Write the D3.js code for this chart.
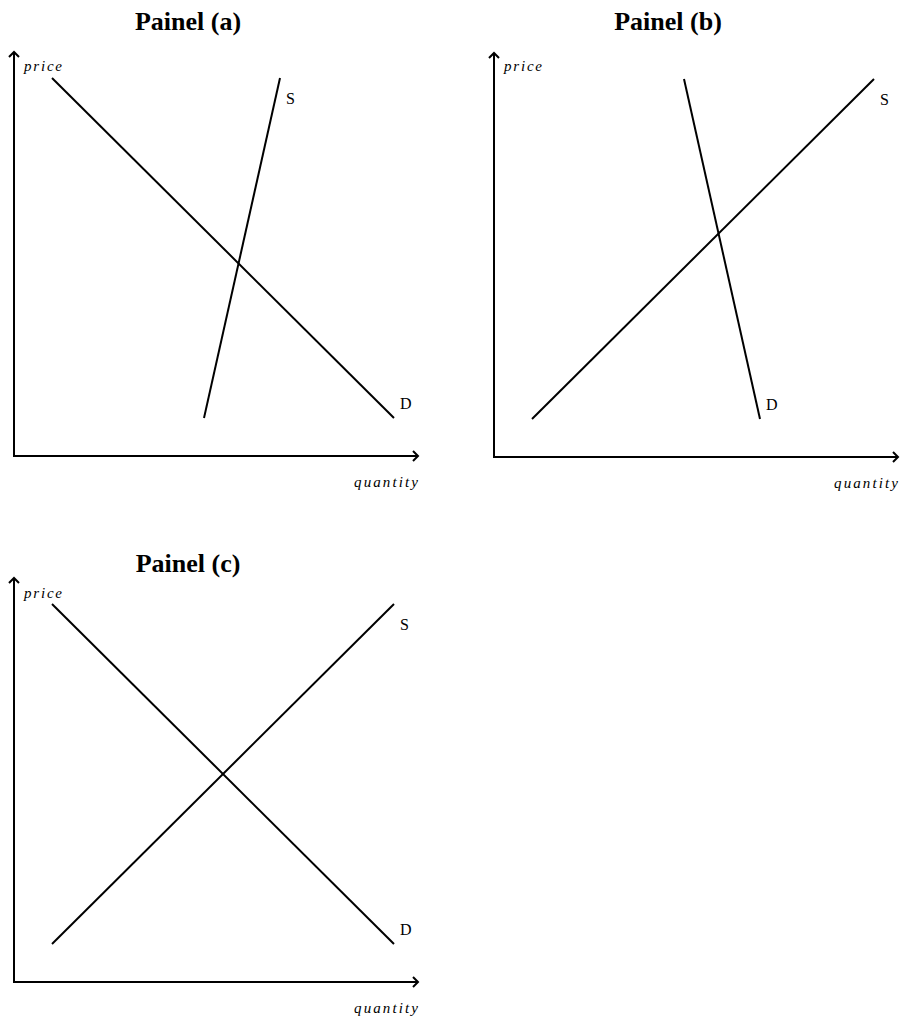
<!DOCTYPE html>
<html>
<head>
<meta charset="utf-8">
<script src="https://cdn.jsdelivr.net/npm/d3@7"></script>
<style>
  body { margin: 0; background: #fff; }
  svg { display: block; }
</style>
</head>
<body>
<div id="chart"></div>
<script>
// Panel titles and curve labels
const panelTitles = ['Painel (a)', 'Painel (b)', 'Painel (c)'];
const axisLabels = { x: 'quantity', y: 'price' };

// Curve endpoints, [quantity, price], axis units 0..10
const demandA = [[0.95, 9.45], [9.5, 0.95]];
const supplyA = [[4.75, 0.95], [6.65, 9.45]];
const demandB = [[4.75, 9.45], [6.65, 0.95]];
const supplyB = [[0.95, 0.95], [9.5, 9.45]];
const demandC = [[0.95, 9.45], [9.5, 0.95]];
const supplyC = [[0.95, 0.95], [9.5, 9.45]];

const panelCurves = [
    { demand: demandA, supply: supplyA },
    { demand: demandB, supply: supplyB },
    { demand: demandC, supply: supplyC }
];

// layout for each panel: origin of the axes and title baseline
const layout = [
    { ox: 14, oy: 456, titleY: 30, priceY: 71 },
    { ox: 494, oy: 457, titleY: 30, priceY: 71 },
    { ox: 14, oy: 982, titleY: 572, priceY: 598 }
];

const W = 903, H = 1016;
const axisLen = 400;   // 10 units
const axisMax = 10.1;  // where the arrow tip sits

const svg = d3.select('#chart')
    .append('svg')
    .attr('width', W)
    .attr('height', H);

const serif = '"Liberation Serif", "Times New Roman", serif';

panelTitles.forEach((title, i) => {
    const L = layout[i];
    const curves = panelCurves[i];

    const x = d3.scaleLinear().domain([0, 10]).range([L.ox, L.ox + axisLen]);
    const y = d3.scaleLinear().domain([0, 10]).range([L.oy, L.oy - axisLen]);

    const g = svg.append('g');

    // title
    g.append('text')
        .attr('x', L.ox + 174)
        .attr('y', L.titleY)
        .attr('text-anchor', 'middle')
        .style('font-family', serif)
        .style('font-weight', 'bold')
        .style('font-size', '26px')
        .text(title);

    // axes with open arrowheads
    const x0 = x(0), y0 = y(0), xt = x(axisMax), yt = y(axisMax);
    g.append('path')
        .attr('d', `M${x0},${yt} L${x0},${y0} L${xt},${y0}`)
        .attr('fill', 'none')
        .attr('stroke', '#000')
        .attr('stroke-width', 2);
    g.append('path')
        .attr('d', `M${xt - 5},${y0 - 5} L${xt},${y0} L${xt - 5},${y0 + 5}`)
        .attr('fill', 'none')
        .attr('stroke', '#000')
        .attr('stroke-width', 2);
    g.append('path')
        .attr('d', `M${x0 - 5},${yt + 5} L${x0},${yt} L${x0 + 5},${yt + 5}`)
        .attr('fill', 'none')
        .attr('stroke', '#000')
        .attr('stroke-width', 2);

    // axis labels
    g.append('text')
        .attr('x', x0 + 10)
        .attr('y', L.priceY)
        .style('font-family', serif)
        .style('font-style', 'italic')
        .style('font-size', '15px')
        .style('letter-spacing', '1.8px')
        .text(axisLabels.y);

    g.append('text')
        .attr('x', xt + 2)
        .attr('y', y0 + 31)
        .attr('text-anchor', 'end')
        .style('font-family', serif)
        .style('font-style', 'italic')
        .style('font-size', '15px')
        .style('letter-spacing', '2.1px')
        .text(axisLabels.x);

    const line = d3.line().x(d => x(d[0])).y(d => y(d[1]));

    ['demand', 'supply'].forEach(key => {
        const pts = curves[key];
        g.append('path')
            .datum(pts)
            .attr('d', line)
            .attr('fill', 'none')
            .attr('stroke', '#000')
            .attr('stroke-width', 2);
    });

    // curve labels: S near the top end, D near the bottom end
    const sTop = curves.supply[1];
    const dBot = curves.demand[1];
    g.append('text')
        .attr('x', x(sTop[0]) + 6)
        .attr('y', y(sTop[1]) + 26)
        .style('font-family', serif)
        .style('font-size', '16px')
        .text('S');
    g.append('text')
        .attr('x', x(dBot[0]) + 6)
        .attr('y', y(dBot[1]) - 9)
        .style('font-family', serif)
        .style('font-size', '16px')
        .text('D');
});
</script>
</body>
</html>
